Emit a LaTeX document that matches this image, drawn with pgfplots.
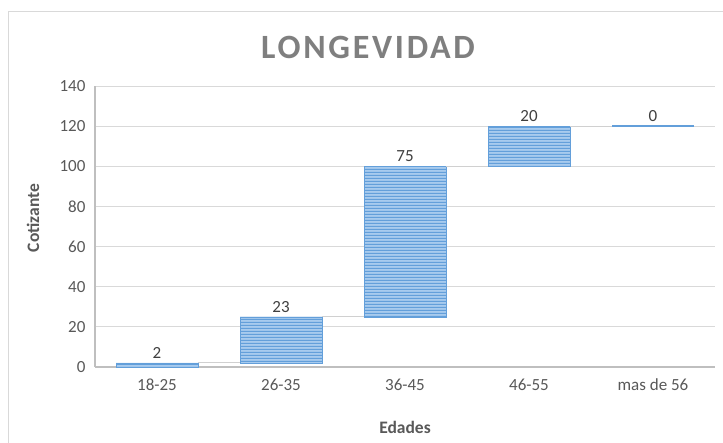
\documentclass[border=0pt]{standalone}
\usepackage{fontspec}
\setmainfont{Carlito}
\newfontfamily\titlefont[LetterSpace=8]{Carlito}
\usepackage{pgfplots}
\pgfplotsset{compat=1.18}
\usetikzlibrary{patterns.meta}
\definecolor{barlight}{HTML}{A8CBEE}
\definecolor{bardark}{HTML}{639FDA}
\definecolor{gridgray}{HTML}{D9D9D9}
\definecolor{axisgray}{HTML}{BFBFBF}
\definecolor{ticklab}{HTML}{595959}
\definecolor{datalab}{HTML}{404040}
\definecolor{titlegray}{HTML}{7F7F7F}
\definecolor{conngray}{HTML}{D0D0D0}
\tikzdeclarepattern{name=hstripes, type=uncolored,
  bounding box={(0pt,0pt) and (800pt,3pt)}, tile size={(800pt,3pt)},
  code={\fill (0pt,0pt) rectangle (800pt,1.5pt);}}
\pgfplotsset{
  geom/.style={at={(95pt,76pt)}, anchor=south west, scale only axis,
    width=620pt, height=281pt, xmin=-0.5, xmax=4.5, ymin=0, ymax=140},
}
\begin{document}
\begin{tikzpicture}
\useasboundingbox (0,0) rectangle (723pt,443pt);
\clip (0,0) rectangle (723pt,443pt);
\fill[white] (0,0) rectangle (723pt,443pt);
\draw[gridgray, line width=1pt] (8pt,-10pt) rectangle (740pt,431pt);
\begin{axis}[geom,
  ybar stacked, bar width=0.66,
  ytick={0,20,...,140},
  xtick={0,1,2,3,4},
  xticklabels={18-25,26-35,36-45,46-55,mas de 56},
  ymajorgrids, grid style={gridgray, line width=0.8pt},
  axis lines*=left,
  x axis line style={axisgray, line width=1.8pt},
  y axis line style={axisgray, line width=1.5pt},
  major tick length=0pt,
  /pgf/number format/assume math mode=true,
  tick label style={font=\fontsize{17}{20}\selectfont, text=ticklab},
  yticklabel style={xshift=-6pt},
  xticklabel style={yshift=-8pt},
  clip=false,
]
\addplot[draw=none, fill=none] coordinates {(0,0) (1,2) (2,25) (3,100) (4,120)};
\addplot[fill=barlight, draw=bardark, line width=0.5pt,
  postaction={pattern=hstripes, pattern color=bardark}]
  coordinates {(0,2) (1,23) (2,75) (3,20) (4,0)};
\end{axis}
\begin{axis}[geom, hide axis, clip=false]
\addplot[conngray, line width=1pt] coordinates {(0.33,2) (0.67,2)};
\addplot[conngray, line width=1pt] coordinates {(1.33,25) (1.67,25)};
\addplot[conngray, line width=1pt] coordinates {(2.33,100) (2.67,100)};
\addplot[conngray, line width=1pt] coordinates {(3.33,120) (3.67,120)};
\addplot[bardark, line width=2pt] coordinates {(3.67,120) (4.33,120)};
\addplot[only marks, mark=none, nodes near coords, point meta=explicit symbolic,
  every node near coord/.append style={font=\fontsize{17}{20}\selectfont, text=datalab, anchor=south, yshift=1pt}]
  coordinates {(0,2) [2] (1,25) [23] (2,100) [75] (3,120) [20] (4,120) [0]};
\end{axis}
\node[font=\titlefont\bfseries\fontsize{34}{38}\selectfont, text=titlegray] at (368pt,396pt) {LONGEVIDAD};
\node[font=\bfseries\fontsize{17.5}{20}\selectfont, text=ticklab] at (405pt,16pt) {Edades};
\node[rotate=90, font=\bfseries\fontsize{17.5}{20}\selectfont, text=ticklab] at (33pt,225pt) {Cotizante};
\end{tikzpicture}
\end{document}
